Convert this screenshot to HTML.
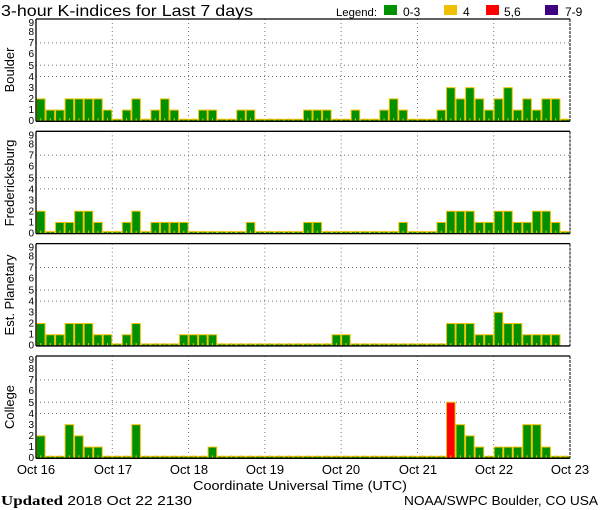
<!DOCTYPE html>
<html><head><meta charset="utf-8"><style>
html,body{margin:0;padding:0;background:#fff;width:600px;height:510px;overflow:hidden}
svg{display:block;font-family:"Liberation Sans",sans-serif}
</style></head><body>
<svg id="s" width="600" height="510" xmlns="http://www.w3.org/2000/svg">
<text x="1" y="16" font-size="16" fill="#000" textLength="252" lengthAdjust="spacingAndGlyphs">3-hour K-indices for Last 7 days</text>
<text x="336" y="16" font-size="11" textLength="41" lengthAdjust="spacingAndGlyphs">Legend:</text>
<rect x="384" y="5" width="13" height="10" fill="#009000"/><text x="403" y="16" font-size="12">0-3</text>
<rect x="444" y="5" width="13" height="10" fill="#f0c000"/><text x="463" y="16" font-size="12">4</text>
<rect x="486" y="5" width="13" height="10" fill="#ff0000"/><text x="504" y="16" font-size="12">5,6</text>
<rect x="545" y="5" width="13" height="10" fill="#400080"/><text x="565" y="16" font-size="12">7-9</text>
<text transform="translate(14,70) rotate(-90)" text-anchor="middle" font-size="13">Boulder</text>
<text transform="translate(14,183) rotate(-90)" text-anchor="middle" font-size="13">Fredericksburg</text>
<text transform="translate(14,295) rotate(-90)" text-anchor="middle" font-size="13">Est. Planetary</text>
<text transform="translate(14,407) rotate(-90)" text-anchor="middle" font-size="13">College</text>
<g font-size="13" text-anchor="middle">
<text x="36" y="474">Oct 16</text><text x="113" y="474">Oct 17</text><text x="189" y="474">Oct 18</text><text x="265" y="474">Oct 19</text><text x="341" y="474">Oct 20</text><text x="418" y="474">Oct 21</text><text x="494" y="474">Oct 22</text><text x="570" y="474">Oct 23</text>
</g>
<text x="193" y="490" font-size="13" textLength="214" lengthAdjust="spacingAndGlyphs">Coordinate Universal Time (UTC)</text>
<text x="1" y="505" font-size="14" font-family="Liberation Serif,serif" font-weight="bold" textLength="191" lengthAdjust="spacingAndGlyphs">Updated <tspan font-family="Liberation Sans,sans-serif" font-weight="normal" font-size="13">2018 Oct 22 2130</tspan></text>
<text x="404" y="505" font-size="13" textLength="194" lengthAdjust="spacingAndGlyphs">NOAA/SWPC Boulder, CO USA</text>
<g font-size="10" text-anchor="end">
<text x="34" y="26">9</text><text x="34" y="35">8</text><text x="34" y="46">7</text><text x="34" y="57">6</text><text x="34" y="69">5</text><text x="34" y="80">4</text><text x="34" y="91">3</text><text x="34" y="102">2</text><text x="34" y="113">1</text><text x="34" y="124">0</text>
</g>
<g font-size="10" text-anchor="end" transform="translate(0,112.3)">
<text x="34" y="26">9</text><text x="34" y="35">8</text><text x="34" y="46">7</text><text x="34" y="57">6</text><text x="34" y="69">5</text><text x="34" y="80">4</text><text x="34" y="91">3</text><text x="34" y="102">2</text><text x="34" y="113">1</text><text x="34" y="124">0</text>
</g>
<g font-size="10" text-anchor="end" transform="translate(0,224.7)">
<text x="34" y="26">9</text><text x="34" y="35">8</text><text x="34" y="46">7</text><text x="34" y="57">6</text><text x="34" y="69">5</text><text x="34" y="80">4</text><text x="34" y="91">3</text><text x="34" y="102">2</text><text x="34" y="113">1</text><text x="34" y="124">0</text>
</g>
<g font-size="10" text-anchor="end" transform="translate(0,337)">
<text x="34" y="26">9</text><text x="34" y="35">8</text><text x="34" y="46">7</text><text x="34" y="57">6</text><text x="34" y="69">5</text><text x="34" y="80">4</text><text x="34" y="91">3</text><text x="34" y="102">2</text><text x="34" y="113">1</text><text x="34" y="124">0</text>
</g>
</svg>
<script>
var D=[
[2,1,1,2,2,2,2,1,0,1,2,0,1,2,1,0,0,1,1,0,0,1,1,0,0,0,0,0,1,1,1,0,0,1,0,0,1,2,1,0,0,0,1,3,2,3,2,1,2,3,1,2,1,2,2,0],
[2,0,1,1,2,2,1,0,0,1,2,0,1,1,1,1,0,0,0,0,0,0,1,0,0,0,0,0,1,1,0,0,0,0,0,0,0,0,1,0,0,0,1,2,2,2,1,1,2,2,1,1,2,2,1,0],
[2,1,1,2,2,2,1,1,0,1,2,0,0,0,0,1,1,1,1,0,0,0,0,0,0,0,0,0,0,0,0,1,1,0,0,0,0,0,0,0,0,0,0,2,2,2,1,1,3,2,2,1,1,1,1,null],
[2,0,0,3,2,1,1,0,0,0,3,0,0,0,0,0,0,0,1,0,0,0,0,0,0,0,0,0,0,0,0,0,0,0,0,0,0,0,0,0,0,0,0,5,3,2,1,0,1,1,1,3,3,1,0,0]];
var s=document.getElementById('s'),h='',L=36,R=570,bw=(R-L)/56,U=11.2;
function col(v){return v<=3?'#009000':v==4?'#f0c000':v<=6?'#ff0000':'#400080';}
for(var p=0;p<4;p++){
 var T=19+p*112.33,B=T+102.3;
 [4,5,7].forEach(function(k){var y=B-U*k;h+='<line x1="'+L+'" x2="'+R+'" y1="'+y+'" y2="'+y+'" stroke="#777" stroke-dasharray="1,3"/>';});
 for(var d=1;d<7;d++){var x=L+d*8*bw;h+='<line x1="'+x+'" x2="'+x+'" y1="'+T+'" y2="'+B+'" stroke="#777" stroke-dasharray="1,3"/>';}
 for(var i=0;i<56;i++){var v=D[p][i];if(v===null)continue;var x=L+i*bw,ht=v==0?2:U*v;
  h+='<rect x="'+(x+0.5)+'" y="'+(B-ht)+'" width="'+(bw-1)+'" height="'+ht+'" fill="'+col(v)+'" stroke="#f0c000" stroke-width="1"/>';
  h+='<line x1="'+(x+bw/2)+'" x2="'+(x+bw/2)+'" y1="'+(B-3)+'" y2="'+B+'" stroke="#f0c000"/>';}
 h+='<line x1="'+L+'" x2="'+R+'" y1="'+T+'" y2="'+T+'" stroke="#000" stroke-width="1.3"/>';
 h+='<line x1="'+L+'" x2="'+R+'" y1="'+B+'" y2="'+B+'" stroke="#000" stroke-width="1.3"/>';
 h+='<line x1="'+L+'" x2="'+L+'" y1="'+T+'" y2="'+B+'" stroke="#000" stroke-width="1.3"/>';
 h+='<line x1="'+R+'" x2="'+R+'" y1="'+T+'" y2="'+B+'" stroke="#000" stroke-width="1" stroke-dasharray="3,1"/>';
}
s.insertAdjacentHTML('beforeend',h);
</script>
</body></html>
